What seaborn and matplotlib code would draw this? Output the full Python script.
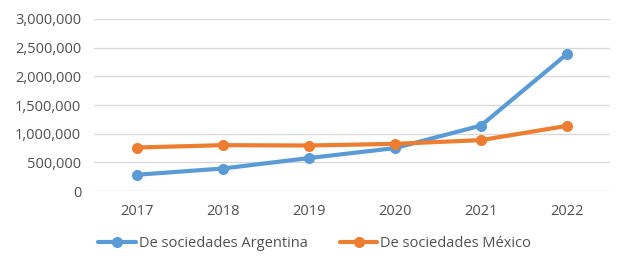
import pandas as pd
import matplotlib.pyplot as plt
import seaborn as sns
from matplotlib.ticker import FuncFormatter

# Values
years = [2017, 2018, 2019, 2020, 2021, 2022]
argentina = [284000, 393000, 575000, 749000, 1142000, 2391000]
mexico = [759000, 800000, 794000, 823000, 888000, 1137000]
series_names = ["De sociedades Argentina", "De sociedades México"]
y_ticks = [0, 500000, 1000000, 1500000, 2000000, 2500000, 3000000]

df = pd.DataFrame({
    "year": years * 2,
    "value": argentina + mexico,
    "serie": [series_names[0]] * len(years) + [series_names[1]] * len(years),
})

sns.set_theme(style="white")
plt.rcParams["font.family"] = ["Open Sans", "DejaVu Sans"]
text_grey = "#505050"

fig = plt.figure(figsize=(6.29, 2.71), dpi=100)
ax = fig.add_axes([0.149, 0.295, 0.821, 0.635])

sns.lineplot(data=df, x="year", y="value", hue="serie",
             palette=["#5B9BD5", "#ED7D31"], marker="o", markersize=8,
             markeredgewidth=0, linewidth=3, ax=ax, legend=True)

ax.set_xlim(2016.5, 2022.5)
ax.set_ylim(0, 3000000)
ax.set_xticks(years)
ax.set_yticks(y_ticks)
ax.yaxis.set_major_formatter(FuncFormatter(lambda v, p: f"{int(v):,}"))
ax.grid(axis="y", color="#D9D9D9", linewidth=1)
ax.set_axisbelow(True)
for s in ax.spines.values():
    s.set_visible(False)
ax.tick_params(axis="both", length=0, labelsize=10.5, labelcolor=text_grey)
ax.tick_params(axis="y", pad=9)
ax.tick_params(axis="x", pad=9)
ax.set_xlabel("")
ax.set_ylabel("")

handles, labels = ax.get_legend_handles_labels()
ax.get_legend().remove()
fig.legend(handles, labels, loc="center", bbox_to_anchor=(0.5, 0.1), ncol=2,
           frameon=False, fontsize=10.5, labelcolor=text_grey,
           handlelength=2.6, handletextpad=0.2, columnspacing=2.2)

fig.savefig("out.png", dpi=100)
